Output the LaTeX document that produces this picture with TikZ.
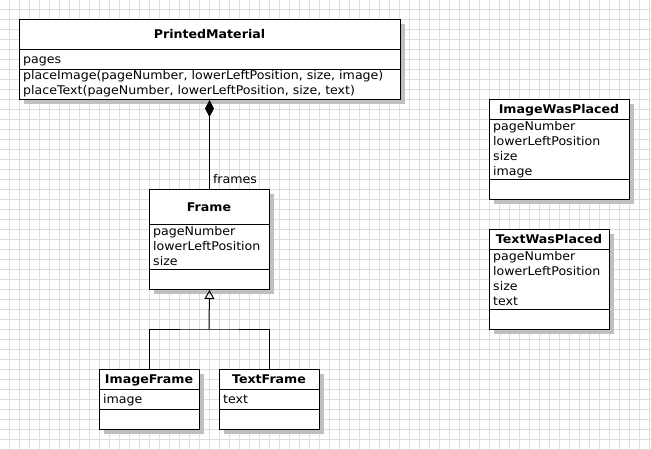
\documentclass[tikz,border=0pt]{standalone}
\usepackage{fontspec}
\setmainfont[FakeStretch=1.05]{DejaVu Sans}
\usepackage{tikz}
\usetikzlibrary{arrows.meta, shadows}
\definecolor{gridgray}{RGB}{222, 222, 222}
\definecolor{shadowgray}{RGB}{192, 192, 192}

\begin{document}
\begin{tikzpicture}[
    x=1pt, y=-1pt,
    classbox/.style={rectangle, draw, fill=white, line width=1pt, anchor=north west, inner sep=0pt,
        drop shadow={shadow xshift=4pt, shadow yshift=-4pt, fill=shadowgray, opacity=1}},
    classname/.style={anchor=base, inner sep=0pt, font=\fontsize{12}{15}\selectfont\bfseries},
    members/.style={anchor=base west, align=left, inner sep=0pt, font=\fontsize{12}{15}\selectfont},
    divider/.style={line width=1pt},
    link/.style={line width=1pt},
    rolename/.style={inner sep=0pt, font=\fontsize{12}{15}\selectfont}
]
    \useasboundingbox (0,0) rectangle (651,450);

    % Grid
    \begin{scope}[shift={(-1,-1)}]
        \draw[gridgray, line width=1pt, step=10pt] (0,0) grid (660,460);
    \end{scope}

    % Classes (members nodes sit on the baseline of their last line)
    \node[classbox, minimum width=381pt, minimum height=80pt] (printed) at (19,19) {};
    \node[classname] (printed-name) at (209.5,38.5) {PrintedMaterial};
    \draw[divider] (printed.west |- 0,49) -- (printed.east |- 0,49);
    \draw[divider] (printed.west |- 0,69) -- (printed.east |- 0,69);
    \node[members] (printed-attr) at (23,63.5) {pages};
    \node[members] (printed-ops) at (23,94.5) {placeImage(pageNumber, lowerLeftPosition, size, image)\\placeText(pageNumber, lowerLeftPosition, size, text)};

    \node[classbox, minimum width=120pt, minimum height=100pt] (frame) at (149,189) {};
    \node[classname] (frame-name) at (209,211) {Frame};
    \draw[divider] (frame.west |- 0,224) -- (frame.east |- 0,224);
    \draw[divider] (frame.west |- 0,269) -- (frame.east |- 0,269);
    \node[members] (frame-attr) at (153,265) {pageNumber\\lowerLeftPosition\\size};

    \node[classbox, minimum width=100pt, minimum height=60pt] (imgframe) at (99,369) {};
    \node[classname] (imgframe-name) at (149,383.5) {ImageFrame};
    \draw[divider] (imgframe.west |- 0,389) -- (imgframe.east |- 0,389);
    \draw[divider] (imgframe.west |- 0,409) -- (imgframe.east |- 0,409);
    \node[members] (imgframe-attr) at (103,403.5) {image};

    \node[classbox, minimum width=100pt, minimum height=60pt] (txtframe) at (219,369) {};
    \node[classname] (txtframe-name) at (269,383.5) {TextFrame};
    \draw[divider] (txtframe.west |- 0,389) -- (txtframe.east |- 0,389);
    \draw[divider] (txtframe.west |- 0,409) -- (txtframe.east |- 0,409);
    \node[members] (txtframe-attr) at (223,403.5) {text};

    \node[classbox, minimum width=140pt, minimum height=100pt] (imgplaced) at (489,99) {};
    \node[classname] (imgplaced-name) at (559,113.5) {ImageWasPlaced};
    \draw[divider] (imgplaced.west |- 0,119) -- (imgplaced.east |- 0,119);
    \draw[divider] (imgplaced.west |- 0,179) -- (imgplaced.east |- 0,179);
    \node[members] (imgplaced-attr) at (493,175) {pageNumber\\lowerLeftPosition\\size\\image};

    \node[classbox, minimum width=120pt, minimum height=100pt] (txtplaced) at (489,229) {};
    \node[classname] (txtplaced-name) at (549,243.5) {TextWasPlaced};
    \draw[divider] (txtplaced.west |- 0,249) -- (txtplaced.east |- 0,249);
    \draw[divider] (txtplaced.west |- 0,309) -- (txtplaced.east |- 0,309);
    \node[members] (txtplaced-attr) at (493,305) {pageNumber\\lowerLeftPosition\\size\\text};

    % Associations
    \draw[link, {Diamond[length=17pt, width=9pt]}-] (printed.south -| frame.north) -- (frame.north)
        node[rolename, at end, anchor=base west, xshift=3pt, yshift=6pt] (frames-role) {frames};

    \coordinate (fork) at (209,329);
    \draw[link, -{Triangle[open, length=9pt, width=10pt]}] (fork) -- (frame.south);
    \draw[link] (imgframe.north) |- (fork) -| (txtframe.north);

\end{tikzpicture}
\end{document}
